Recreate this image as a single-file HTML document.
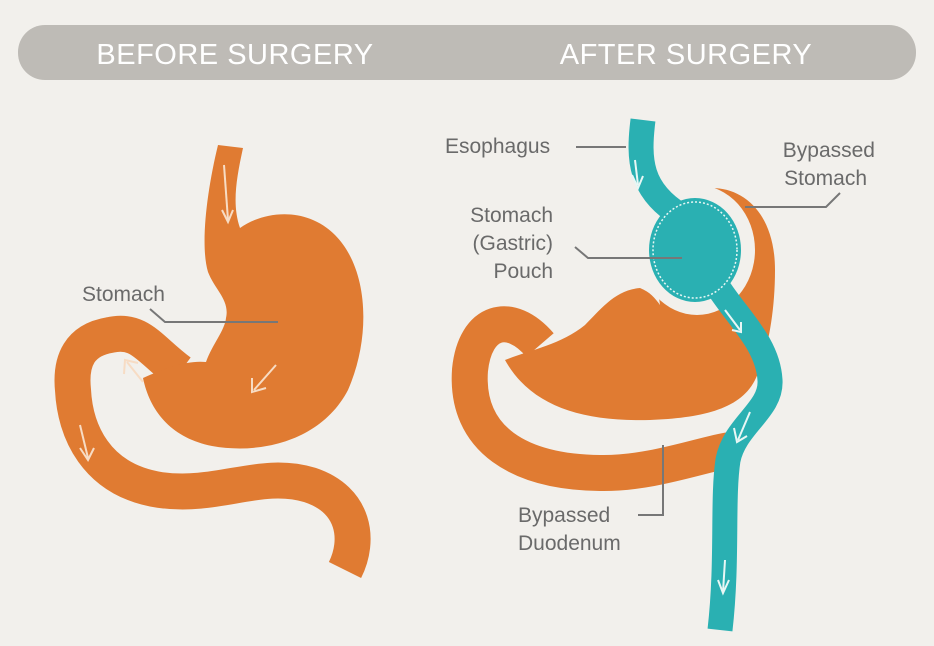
<!DOCTYPE html>
<html><head><style>
html,body{margin:0;padding:0;background:#f2f0ec;}
svg{display:block;}
text{font-family:"Liberation Sans",sans-serif;}
</style></head><body>
<svg width="934" height="646" viewBox="0 0 934 646" xmlns="http://www.w3.org/2000/svg">
<rect width="934" height="646" fill="#f2f0ec"/>
<rect x="18" y="25" width="898" height="55" rx="27" fill="#bebbb6"/>
<text x="235" y="64" font-size="29" fill="#fff" text-anchor="middle" letter-spacing="0.5">BEFORE SURGERY</text>
<text x="686" y="64" font-size="29" fill="#fff" text-anchor="middle" letter-spacing="0.5">AFTER SURGERY</text>

<!-- LEFT -->
<path d="M180,372 C150,350 140,328 110,335 C80,340 70,360 73,390 C75,430 95,480 160,490 C220,498 260,470 310,485 C355,500 360,540 345,570" fill="none" stroke="#e07b32" stroke-width="36"/>
<path d="M218,145 L243,148 C236,180 232,205 240,228 C262,212 305,205 335,235 C368,268 372,335 348,390 C322,440 262,455 212,446 C172,438 150,412 143,378 C165,368 188,360 206,362 C212,345 225,330 226,318 C230,300 215,290 208,272 C200,245 207,190 218,145 Z" fill="#e07b32"/>
<text x="82" y="301" font-size="21" fill="#6a6a6a">Stomach</text>
<polyline points="150,309 165,322 278,322" fill="none" stroke="#777" stroke-width="2"/>
<g stroke="#f7dcc4" stroke-width="2" fill="none">
<path d="M224,165 L228,220"/><path d="M222,210 L228,222 L233,210"/>
<path d="M276,365 L254,390"/><path d="M252,378 L252,392 L266,388"/>
<path d="M143,382 L127,362"/><path d="M124,374 L125,360 L138,363"/>
<path d="M80,425 L88,458"/><path d="M80,448 L88,460 L94,448"/>
</g>

<!-- RIGHT orange -->
<path d="M540,345 C510,310 475,320 470,370 C465,440 520,472 600,473 C650,474 700,455 730,450" fill="none" stroke="#e07b32" stroke-width="36"/>
<path d="M505,360 C530,350 560,345 585,325 C600,310 615,290 640,288 C650,292 655,298 660,305 L650,230 C665,205 690,188 712,188 C745,188 775,215 775,270 C775,320 765,360 755,380 C740,410 700,418 650,420 C580,422 530,405 505,360 Z" fill="#e07b32"/>
<path d="M730,433 C740,440 740,460 728,466" fill="none" stroke="#f5c07a" stroke-width="2" stroke-dasharray="2 2"/>

<!-- teal -->
<ellipse cx="697" cy="250" rx="58" ry="65" fill="#f2f0ec"/>
<path d="M643,120 C638,160 640,190 680,215 M720,290 C740,320 768,345 770,380 C772,410 735,425 728,460 C722,500 728,560 720,630" fill="none" stroke="#2ab0b2" stroke-width="25"/>
<ellipse cx="695" cy="250" rx="46" ry="52" fill="#2ab0b2"/>
<ellipse cx="695" cy="250" rx="42" ry="48" fill="none" stroke="#e8f7f5" stroke-width="1.5" stroke-dasharray="2 2"/>
<g stroke="#e8f7f5" stroke-width="2" fill="none">
<path d="M635,160 L638,185"/><path d="M632,175 L638,188 L643,176"/>
<path d="M725,310 L740,330"/><path d="M732,330 L741,332 L741,322"/>
<path d="M750,412 L738,440"/><path d="M734,428 L737,442 L747,436"/>
<path d="M725,560 L723,592"/><path d="M718,580 L723,593 L729,580"/>
</g>

<text x="445" y="153" font-size="21" fill="#6a6a6a">Esophagus</text>
<line x1="576" y1="147" x2="626" y2="147" stroke="#777" stroke-width="2"/>
<text x="875" y="157" font-size="21" fill="#6a6a6a" text-anchor="end">Bypassed</text>
<text x="867" y="185" font-size="21" fill="#6a6a6a" text-anchor="end">Stomach</text>
<polyline points="840,193 826,207 745,207" fill="none" stroke="#777" stroke-width="2"/>
<text x="553" y="222" font-size="21" fill="#6a6a6a" text-anchor="end">Stomach</text>
<text x="553" y="250" font-size="21" fill="#6a6a6a" text-anchor="end">(Gastric)</text>
<text x="553" y="278" font-size="21" fill="#6a6a6a" text-anchor="end">Pouch</text>
<polyline points="575,247 588,258 682,258" fill="none" stroke="#777" stroke-width="2"/>
<text x="518" y="522" font-size="21" fill="#6a6a6a">Bypassed</text>
<text x="518" y="550" font-size="21" fill="#6a6a6a">Duodenum</text>
<polyline points="663,445 663,515 638,515" fill="none" stroke="#777" stroke-width="2"/>
</svg>
</body></html>
